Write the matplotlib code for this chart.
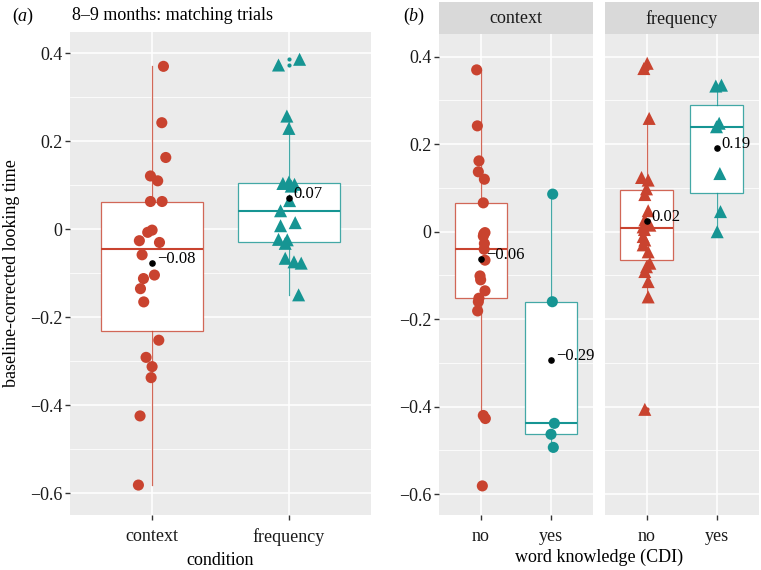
import numpy as np
import matplotlib
matplotlib.use('Agg')
import matplotlib.pyplot as plt
from matplotlib.colors import to_rgba

plt.rcParams['font.family'] = ['Liberation Serif', 'DejaVu Serif']
plt.rcParams['mathtext.fontset'] = 'custom'
plt.rcParams['mathtext.rm'] = 'Liberation Serif'
plt.rcParams['mathtext.it'] = 'Liberation Serif:italic'

RED = '#C9432F'
TEAL = '#169593'

# (a) 8-9 months, matching trials, by condition
context_a = [0.370, 0.242, 0.163, 0.121, 0.110, 0.063, 0.063, -0.002, -0.007, -0.026, -0.030,
             -0.058, -0.104, -0.112, -0.135, -0.165, -0.252, -0.291, -0.312, -0.337, -0.424, -0.581]
context_a_jit = [0.083, 0.071, 0.100, -0.012, 0.041, -0.012, 0.073, 0.0, -0.032, -0.093, 0.054,
                 -0.073, 0.017, -0.063, -0.085, -0.061, 0.049, -0.044, 0.0, -0.007, -0.088, -0.100]
frequency_a = [0.386, 0.373, 0.257, 0.229, 0.107, 0.104, 0.102, 0.098, 0.065, 0.042, 0.015, 0.008,
               -0.023, -0.024, -0.032, -0.066, -0.074, -0.077, -0.149]
frequency_a_jit = [0.078, -0.076, -0.015, 0.0, 0.0, -0.044, 0.041, 0.017, 0.005, -0.061, 0.046, -0.061,
                   -0.076, -0.012, -0.027, -0.027, 0.037, 0.090, 0.071]
conditions = ['context', 'frequency']

# (b) split by word knowledge (CDI)
context_no = [0.370, 0.242, 0.162, 0.137, 0.120, 0.066, -0.002, -0.005, -0.010, -0.027, -0.040,
              -0.065, -0.101, -0.110, -0.135, -0.152, -0.160, -0.181, -0.420, -0.427, -0.581]
context_no_jit = [-0.062, -0.052, -0.029, -0.038, 0.048, 0.033, 0.057, 0.040, 0.033, 0.048, 0.045,
                  0.057, -0.014, -0.005, 0.057, -0.030, -0.038, -0.048, 0.033, 0.062, 0.019]
context_yes = [0.086, -0.160, -0.438, -0.463, -0.493]
context_yes_jit = [0.024, 0.019, 0.048, 0.0, 0.033]
frequency_no = [0.385, 0.373, 0.259, 0.124, 0.118, 0.098, 0.085, 0.048, 0.027, 0.015, 0.011, 0.005,
                -0.011, -0.019, -0.030, -0.046, -0.072, -0.080, -0.091, -0.114, -0.149, -0.406]
frequency_no_jit = [0.010, -0.038, 0.038, -0.071, 0.024, 0.0, -0.024, 0.024, -0.024, 0.048, -0.048, -0.030,
                    -0.048, -0.024, -0.048, 0.024, 0.048, 0.0, -0.024, 0.024, 0.024, -0.024]
frequency_yes = [0.335, 0.333, 0.248, 0.240, 0.133, 0.046, 0.000]
frequency_yes_jit = [0.071, -0.010, 0.038, 0.0, 0.048, 0.057, 0.010]
knowledge = ['no', 'yes']

yticks = [-0.6, -0.4, -0.2, 0, 0.2, 0.4]
ytick_labels = ['\u22120.6', '\u22120.4', '\u22120.2', '0', '0.2', '0.4']

W, H = 761, 570
fig = plt.figure(figsize=(W / 100, H / 100), dpi=100)


def px_axes(x0, y0, x1, y1):
    # box given in figure pixels, origin top-left
    return fig.add_axes([x0 / W, 1 - y1 / H, (x1 - x0) / W, (y1 - y0) / H])


def style(ax, ylim, show_y=True):
    ax.set_facecolor('#EBEBEB')
    for s in ax.spines.values():
        s.set_visible(False)
    ax.set_xlim(0.4, 2.6)
    ax.set_ylim(*ylim)
    ax.set_yticks(yticks)
    ax.set_yticks([-0.5, -0.3, -0.1, 0.1, 0.3], minor=True)
    ax.grid(which='major', color='white', lw=1.1)
    ax.grid(which='minor', axis='y', color='white', lw=0.55)
    ax.set_axisbelow(True)
    ax.tick_params(axis='both', which='major', length=3.5, width=1, color='#333333',
                   labelsize=13, labelcolor='#1a1a1a', pad=2)
    ax.tick_params(axis='x', which='major', pad=6)
    ax.tick_params(which='minor', length=0)
    if show_y:
        ax.set_yticklabels(ytick_labels)
    else:
        ax.tick_params(axis='y', which='both', left=False, labelleft=False)


def draw_group(ax, pos, vals, jit, col, marker):
    edge = to_rgba(col, 0.8)
    ax.boxplot([vals], positions=[pos], widths=0.75, patch_artist=True, whis=1.5,
               boxprops=dict(facecolor='white', edgecolor=edge, linewidth=0.9),
               whiskerprops=dict(color=edge, linewidth=0.9),
               capprops=dict(linewidth=0),
               medianprops=dict(color=col, linewidth=1.5),
               flierprops=dict(marker='o', markersize=3, markerfacecolor=col, markeredgecolor='none'),
               zorder=2)
    x = pos + np.array(jit)
    size = 64 if marker == 'o' else 88
    ax.scatter(x, vals, s=size, marker=marker, color=col, edgecolors='none', zorder=3)
    m = np.mean(vals)
    ax.scatter([pos], [m], s=14, color='black', zorder=4)
    ax.annotate(f'{m:.2f}'.replace('-', '\u2212'), (pos, m), xytext=(3.5, 0),
                textcoords='offset points', ha='left', va='baseline', fontsize=12, zorder=5)


# panel (a)
ax_a = px_axes(70, 32, 371, 515)
style(ax_a, (-0.649, 0.448))
draw_group(ax_a, 1, context_a, context_a_jit, RED, 'o')
draw_group(ax_a, 2, frequency_a, frequency_a_jit, TEAL, '^')
ax_a.set_xticks([1, 2])
ax_a.set_xticklabels(conditions)
ax_a.set_xlabel('condition', fontsize=13, labelpad=4)
ax_a.set_ylabel('baseline-corrected looking time', fontsize=13, labelpad=7)

# panel (b)
ax_b1 = px_axes(439, 34, 593, 515)
ax_b2 = px_axes(604.5, 34, 758.5, 515)
style(ax_b1, (-0.6475, 0.452))
style(ax_b2, (-0.6475, 0.452), show_y=False)
draw_group(ax_b1, 1, context_no, context_no_jit, RED, 'o')
draw_group(ax_b1, 2, context_yes, context_yes_jit, TEAL, 'o')
draw_group(ax_b2, 1, frequency_no, frequency_no_jit, RED, '^')
draw_group(ax_b2, 2, frequency_yes, frequency_yes_jit, TEAL, '^')
for ax, name in [(ax_b1, 'context'), (ax_b2, 'frequency')]:
    ax.set_xticks([1, 2])
    ax.set_xticklabels(knowledge)
    bb = ax.get_position()
    strip = fig.add_axes([bb.x0, 1 - 34 / H, bb.width, 32 / H])
    strip.set_facecolor('#D9D9D9')
    strip.set_xticks([])
    strip.set_yticks([])
    for s in strip.spines.values():
        s.set_visible(False)
    strip.text(0.5, 0.47, name, ha='center', va='center', fontsize=13, color='#1a1a1a',
               transform=strip.transAxes)

fig.text(599 / W, 1 - 557 / H, 'word knowledge (CDI)', ha='center', va='center', fontsize=13)

# panel labels and title
fig.text(12 / W, 1 - 16 / H, '($a$)', ha='left', va='center', fontsize=13)
fig.text(72 / W, 1 - 15 / H, '8\u20139 months: matching trials', ha='left', va='center', fontsize=13)
fig.text(403 / W, 1 - 16 / H, '($b$)', ha='left', va='center', fontsize=13)

fig.savefig('out.png', dpi=100)
